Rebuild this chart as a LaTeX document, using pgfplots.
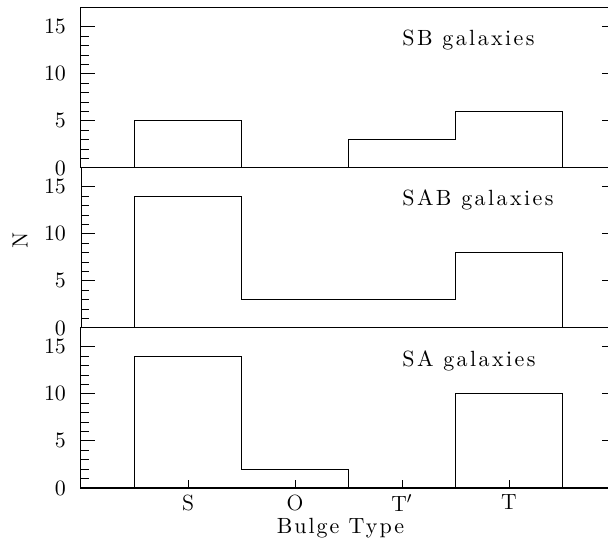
\documentclass[border=0pt]{standalone}
\usepackage{fontspec}
\newfontfamily\spacedA{lmroman10-regular.otf}[LetterSpace=11]
\newfontfamily\spacedB{lmroman10-regular.otf}[LetterSpace=9]
\usepackage{pgfplots}
\usepackage{pgfplotstable}
\pgfplotsset{compat=1.18}

% histogram outlines: bin edge and count (const plot)
\pgfplotstableread{
x y
0.5 0
0.5 5
1.5 0
2.5 3
3.5 6
4.5 6
4.5 0
}\SBdata
\pgfplotstableread{
x y
0.5 0
0.5 14
1.5 3
2.5 3
3.5 8
4.5 8
4.5 0
}\SABdata
\pgfplotstableread{
x y
0.5 0
0.5 14
1.5 2
2.5 0
3.5 10
4.5 10
4.5 0
}\SAdata

\pgfplotsset{
  panel/.style={
    width=267.5pt, height=80pt, scale only axis,
    xmin=0, xmax=5, ymin=0, ymax=17,
    ytick={0,5,10,15}, minor y tick num=4,
    tick align=inside, yticklabel pos=left,
    major tick length=7pt, minor tick length=4pt,
    axis line style={line width=0.5pt},
    every tick/.style={black, line width=0.5pt},
    tick label style={font=\fontsize{11}{11}\selectfont},
    yticklabel style={xshift=-4pt},
    xtick=\empty,
  },
  hist/.style={const plot, black, line width=0.55pt, mark=none},
}

\begin{document}
\begin{tikzpicture}
\useasboundingbox (-40.5pt,-28pt) rectangle (263.5pt,244pt);

\begin{axis}[panel, at={(0,160pt)}, anchor=south west]
  \addplot[hist] table[x=x,y=y] {\SBdata};
  \node[anchor=base west, inner sep=0pt, font=\spacedA\fontsize{11}{13}\selectfont] at (axis cs:3,13.0) {SB galaxies};
\end{axis}

\begin{axis}[panel, at={(0,80pt)}, anchor=south west,
  ylabel={N},
  every axis y label/.style={at={(axis description cs:-0.114,0.55)}, rotate=90, anchor=center, font=\fontsize{11}{13}\selectfont}]
  \addplot[hist] table[x=x,y=y] {\SABdata};
  \node[anchor=base west, inner sep=0pt, font=\spacedA\fontsize{11}{13}\selectfont] at (axis cs:3,13.0) {SAB galaxies};
\end{axis}

\begin{axis}[panel, at={(0,0pt)}, anchor=south west,
  xtick={1,2,3,4}, xticklabels={S,O,T$'$,T}, xtick pos=bottom,
  xtick style={/pgfplots/major tick length=4pt},
  xlabel={Bulge Type},
  every axis x label/.style={at={(axis description cs:0.485,0)}, anchor=center, yshift=-20pt, font=\spacedB\fontsize{11}{13}\selectfont}]
  \addplot[hist] table[x=x,y=y] {\SAdata};
  \node[anchor=base west, inner sep=0pt, font=\spacedA\fontsize{11}{13}\selectfont] at (axis cs:3,12.9) {SA galaxies};
\end{axis}
\end{tikzpicture}
\end{document}
